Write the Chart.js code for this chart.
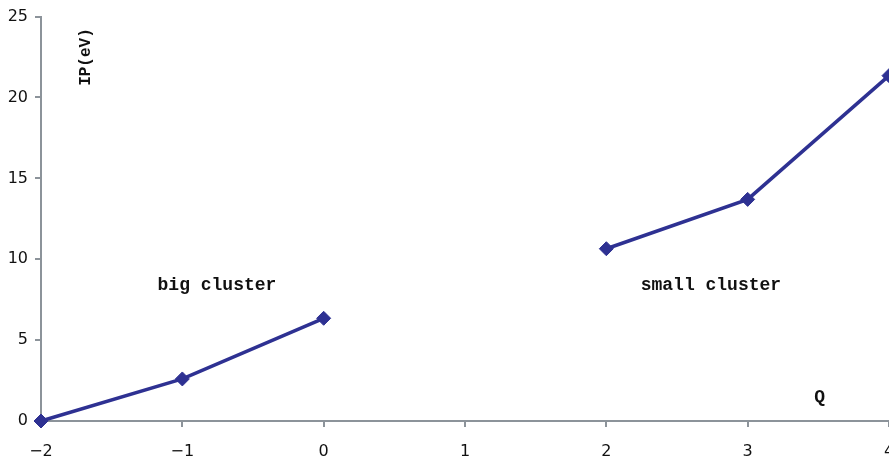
<!DOCTYPE html>
<html>
<head>
<meta charset="utf-8">
<script src="https://cdn.jsdelivr.net/npm/chart.js@4.4.1/dist/chart.umd.min.js"></script>
<style>
  html, body { margin: 0; padding: 0; background: #fff; }
  #wrap { width: 889px; height: 459px; }
</style>
</head>
<body>
<div id="wrap"><canvas id="myChart"></canvas></div>
<script>
// charge Q and ionisation potential IP (eV)
var bigQ = [-2, -1, 0];
var bigIP = [0, 2.6, 6.35];
var smallQ = [2, 3, 4];
var smallIP = [10.65, 13.7, 21.35];
var yTicks = [0, 5, 10, 15, 20, 25];
var xTicks = [-2, -1, 0, 1, 2, 3, 4];

// text notes, placed in data units
var noteText = ['big cluster', 'small cluster', 'Q', 'IP(eV)'];
var noteX = [-0.755, 2.74, 3.51, -1.68];
var noteY = [8.35, 8.35, 1.47, 22.5];

function toPoints(xs, ys) {
    var pts = [];
    for (var i = 0; i < xs.length; i++) {
        pts.push({ x: xs[i], y: ys[i] });
    }
    return pts;
}

var lineColor = '#2e3192';
var axisColor = '#8c939a';

var notes = {
    id: 'notes',
    afterDraw: function (chart) {
        var ctx = chart.ctx;
        var xs = chart.scales.x, ys = chart.scales.y;
        ctx.save();
        ctx.fillStyle = '#111';
        ctx.textAlign = 'center';
        ctx.textBaseline = 'middle';
        for (var i = 0; i < noteText.length; i++) {
            var px = xs.getPixelForValue(noteX[i]);
            var py = ys.getPixelForValue(noteY[i]);
            if (noteText[i] === 'IP(eV)') {
                ctx.font = 'bold 16px "Liberation Mono", "Courier New", monospace';
                ctx.save();
                ctx.translate(px, py);
                ctx.rotate(-Math.PI / 2);
                ctx.fillText(noteText[i], 0, 0);
                ctx.restore();
            } else {
                ctx.font = 'bold 18px "Liberation Mono", "Courier New", monospace';
                ctx.fillText(noteText[i], px, py);
            }
        }
        ctx.restore();
    }
};

function dataset(pts) {
    return {
        data: pts,
        showLine: true,
        borderColor: lineColor,
        backgroundColor: lineColor,
        borderWidth: 3.5,
        pointStyle: 'rectRot',
        pointRadius: 7,
        pointHoverRadius: 7,
        pointBorderWidth: 1,
        tension: 0,
        clip: false
    };
}

function minusSign(v) {
    return String(v).replace('-', '\u2212');
}

var ctx = document.getElementById('myChart').getContext('2d');
var myChart = new Chart(ctx, {
    type: 'scatter',
    data: {
        datasets: [dataset(toPoints(bigQ, bigIP)), dataset(toPoints(smallQ, smallIP))]
    },
    plugins: [notes],
    options: {
        responsive: true,
        maintainAspectRatio: false,
        animation: false,
        layout: { autoPadding: false, padding: { top: 14, right: 0, left: 0, bottom: 0 } },
        plugins: { legend: { display: false }, tooltip: { enabled: false } },
        scales: {
            x: {
                type: 'linear',
                min: xTicks[0],
                max: xTicks[xTicks.length - 1],
                afterBuildTicks: function (s) {
                    s.ticks = xTicks.map(function (v) { return { value: v }; });
                },
                afterFit: function (s) {
                    s.height = 38;
                    s.paddingRight = 0;
                },
                border: { color: axisColor, width: 2 },
                grid: { drawOnChartArea: false, drawTicks: true, tickLength: 6, color: axisColor, lineWidth: 2 },
                ticks: {
                    color: '#111',
                    padding: 15,
                    maxRotation: 0,
                    font: { family: 'DejaVu Sans', size: 16 },
                    callback: function (v) { return minusSign(v); }
                }
            },
            y: {
                min: yTicks[0],
                max: yTicks[yTicks.length - 1],
                afterBuildTicks: function (s) {
                    s.ticks = yTicks.map(function (v) { return { value: v }; });
                },
                afterFit: function (s) {
                    s.width = 41;
                },
                border: { color: axisColor, width: 2 },
                grid: { drawOnChartArea: false, drawTicks: true, tickLength: 6, color: axisColor, lineWidth: 2 },
                ticks: {
                    color: '#111',
                    padding: 7,
                    font: { family: 'DejaVu Sans', size: 16 }
                }
            }
        }
    }
});
</script>
</body>
</html>
